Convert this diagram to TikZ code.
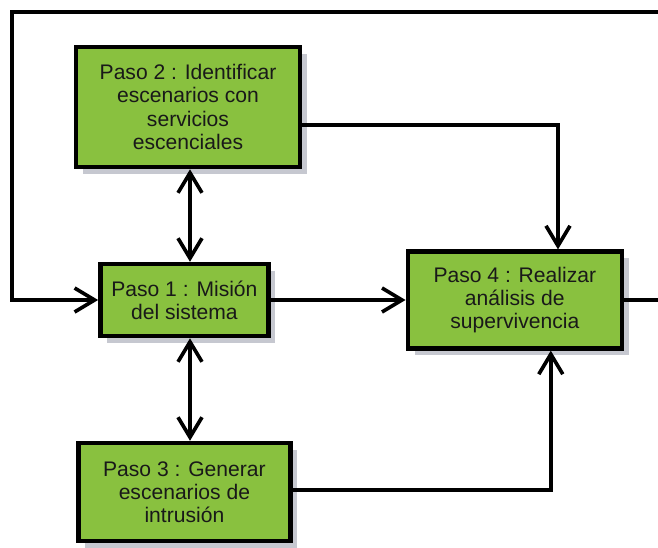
\documentclass[tikz,border=0pt]{standalone}
\usepackage{fontspec}
\setmainfont{Liberation Sans}
\usetikzlibrary{arrows.meta, shadows}
\definecolor{pasogreen}{RGB}{137,193,63}
\definecolor{pasoshadow}{RGB}{198,200,208}
\tikzstyle{rect} = [rectangle, align=center, draw=black, line width=3.2pt, fill=pasogreen, text=black!90, font=\fontsize{15}{16.5}\selectfont, drop shadow={shadow xshift=0.17cm, shadow yshift=-0.17cm, fill=pasoshadow, opacity=1}]
\tikzstyle{arrow} = [-{Straight Barb[length=0.5cm,width=0.6cm]}, line width=2.6pt]
\tikzstyle{dblarrow} = [{Straight Barb[length=0.5cm,width=0.6cm]}-{Straight Barb[length=0.5cm,width=0.6cm]}, line width=2.6pt]
\begin{document}
\begin{tikzpicture}[node distance=4.8cm]
    \useasboundingbox (0,0) rectangle (16.45,-13.675);
    \clip (0,0) rectangle (16.45,-13.675);
    \node (p1) [rect, minimum width=4.2cm, minimum height=1.8cm] at (4.61,-7.5) {Paso 1 : Misión\\del sistema};
    \node (p2) [rect, above of=p1, xshift=0.09cm, yshift=0.025cm, minimum width=5.6cm, minimum height=3cm] {Paso 2 : Identificar\\escenarios con\\servicios\\escenciales};
    \node (p3) [rect, below of=p1, minimum width=5.3cm, minimum height=2.45cm] {Paso 3 : Generar\\escenarios de\\intrusión};
    \node (p4) [rect, right of=p1, xshift=3.46cm, minimum width=5.35cm, minimum height=2.42cm] {Paso 4 : Realizar\\análisis de\\supervivencia};
    \coordinate (fbtop) at (0.3,-0.3);
    \draw [dblarrow] ([xshift=0.14cm]p1.north) -- ([xshift=0.14cm]p1.north |- p2.south);
    \draw [dblarrow] ([xshift=0.14cm]p1.south) -- ([xshift=0.14cm]p1.south |- p3.north);
    \draw [arrow] (p1.east) -- (p1.east -| p4.west);
    \draw [arrow] ([yshift=-0.45cm]p2.east) -| ([xshift=1.08cm]p4.north);
    \draw [arrow] ([yshift=0.05cm]p3.east) -| ([xshift=0.9cm]p4.south);
    \draw [arrow] (p4.east) -- ++(1,0) |- (fbtop) |- (p1.west);
    \end{tikzpicture}
\end{document}
